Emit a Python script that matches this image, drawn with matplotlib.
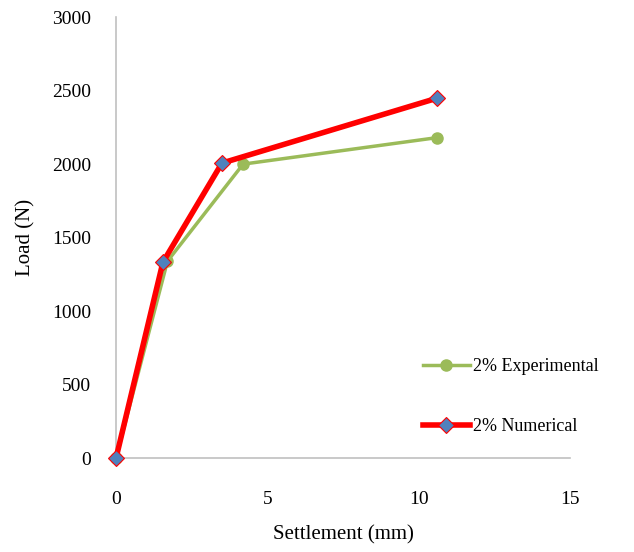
import matplotlib.pyplot as plt

plt.rcParams['font.family'] = ['Liberation Serif', 'DejaVu Serif']

# Settlement (mm) vs Load (N)
exp_x = [0, 1.7, 4.2, 10.6]
exp_y = [0, 1340, 2000, 2180]
num_x = [0, 1.55, 3.5, 10.6]
num_y = [0, 1333, 2007, 2448]

x_ticks = [0, 5, 10, 15]
y_ticks = [0, 500, 1000, 1500, 2000, 2500, 3000]

fig = plt.figure(figsize=(6.34, 5.52), dpi=100)
ax = fig.add_axes([0.183, 0.170, 0.716, 0.799])

ax.plot(exp_x, exp_y, color='#9bbb59', linewidth=2.5, marker='o',
        markersize=8, markerfacecolor='#9bbb59', markeredgecolor='#9bbb59',
        label='2% Experimental', zorder=2, clip_on=False)
ax.plot(num_x, num_y, color='#ff0000', linewidth=4, marker='D',
        markersize=8, markerfacecolor='#4f81bd', markeredgecolor='#ff0000',
        markeredgewidth=0.8, label='2% Numerical', zorder=3, clip_on=False)

ax.set_xlim(0, 15)
ax.set_ylim(0, 3000)
ax.set_xticks(x_ticks)
ax.set_yticks(y_ticks)
ax.tick_params(length=0, labelsize=14)
ax.tick_params(axis='x', pad=24)
ax.tick_params(axis='y', pad=18)

for s in ['top', 'right']:
    ax.spines[s].set_visible(False)
for s in ['left', 'bottom']:
    ax.spines[s].set_color('#c0c0c0')
    ax.spines[s].set_linewidth(1.2)

ax.set_xlabel('Settlement (mm)', fontsize=15, labelpad=12)
ax.set_ylabel('Load (N)', fontsize=15, labelpad=12)

ax.legend(loc='lower right', bbox_to_anchor=(1.10, 0.015), frameon=False,
          fontsize=13, labelspacing=2.4, handlelength=2.6, handletextpad=0.2)

fig.savefig('out.png', dpi=100)
